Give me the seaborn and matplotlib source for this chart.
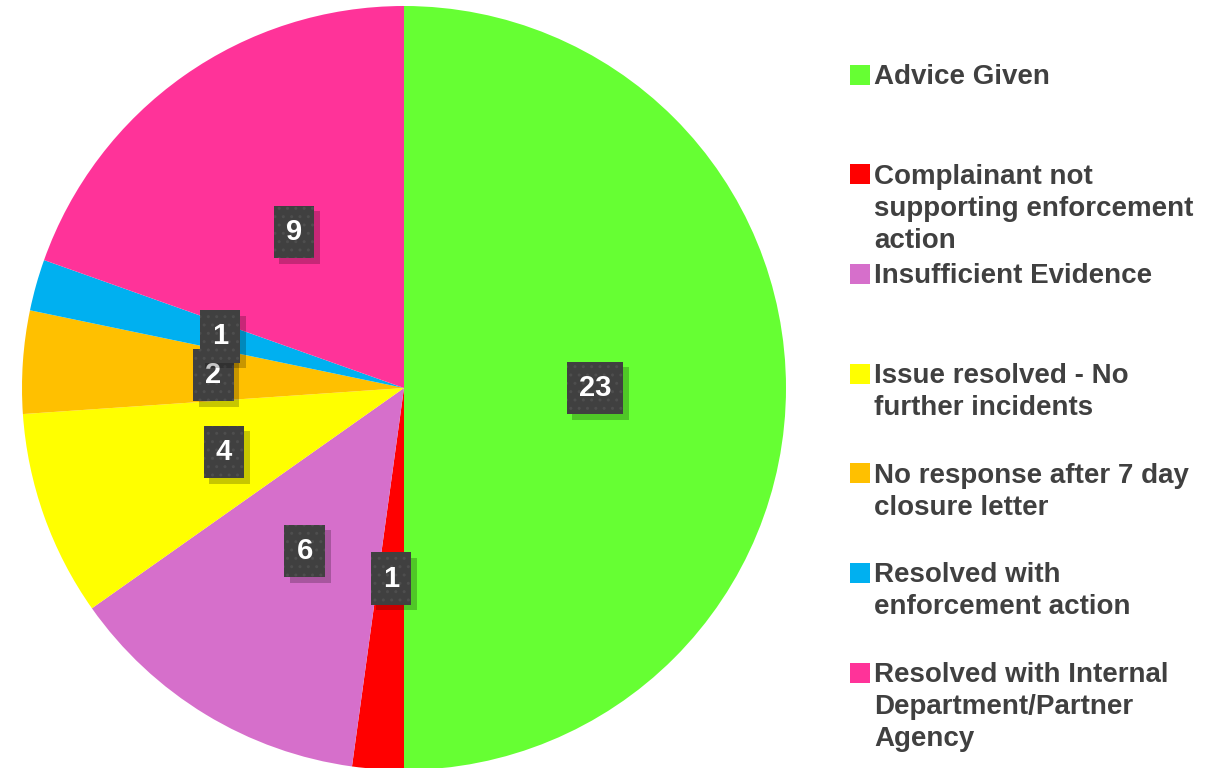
import matplotlib.pyplot as plt
import matplotlib.patheffects as pe
import seaborn as sns

categories = [
    'Advice Given',
    'Complainant not\nsupporting enforcement\naction',
    'Insufficient Evidence',
    'Issue resolved - No\nfurther incidents',
    'No response after 7 day\nclosure letter',
    'Resolved with\nenforcement action',
    'Resolved with Internal\nDepartment/Partner\nAgency',
]
counts = [23, 1, 6, 4, 2, 1, 9]
colors = ['#66FF33', '#FF0000', '#D66FCB', '#FFFF00', '#FFC000', '#00B0F0', '#FF3399']

sns.set_theme(style='white')
plt.rcParams['font.family'] = ['Liberation Sans', 'DejaVu Sans']

W, H = 1224, 768
fig = plt.figure(figsize=(W / 100, H / 100), dpi=100)
ax = fig.add_axes([0, 0, 1, 1])

total = sum(counts)
wedges, texts, autotexts = ax.pie(
    counts, colors=colors, startangle=90, counterclock=False,
    center=(404, H - 388), radius=382, pctdistance=0.5,
    autopct=lambda p: f'{round(p * total / 100)}',
    wedgeprops=dict(linewidth=0),
)

for t in autotexts:
    t.set_color('white')
    t.set_fontsize(21)
    t.set_fontweight('bold')
    t.set_bbox(dict(boxstyle='square,pad=0.42', facecolor='#404040',
                    edgecolor='#4e4e4e', linewidth=0, hatch='..'))
    t.get_bbox_patch().set_path_effects([
        pe.SimplePatchShadow(offset=(4, -4), shadow_rgbFace='black',
                             alpha=0.22, hatch=None),
        pe.Normal(),
    ])

ax.set_xlim(0, W)
ax.set_ylim(0, H)
ax.set_aspect('equal')
ax.axis('off')

# legend drawn by hand: square marker plus wrapped label
for i, (lab, col) in enumerate(zip(categories, colors)):
    top = 65 + 99.7 * i
    ax.scatter([860], [H - (top + 9.5)], marker='s', s=190, color=col, linewidths=0)
    ax.text(874, H - (top - 1), lab, ha='left', va='top', fontsize=20,
            fontweight='bold', color='#404040', linespacing=1.3)

fig.savefig('out.png', dpi=100)
